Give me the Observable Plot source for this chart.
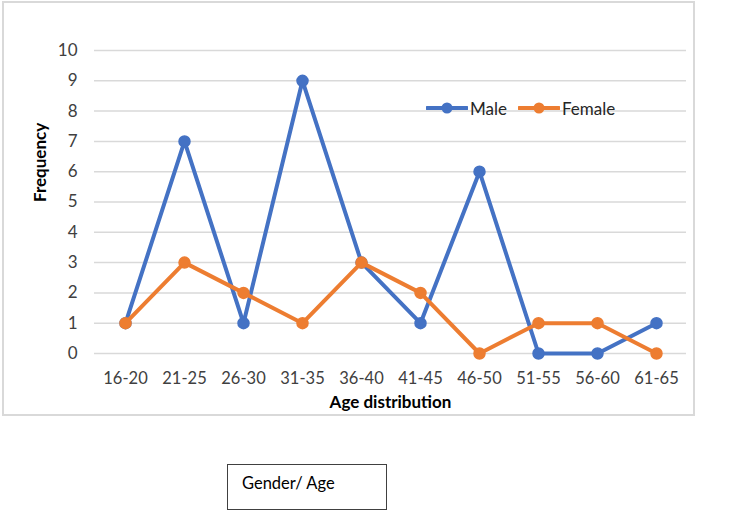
<!DOCTYPE html>
<html>
<head>
<meta charset="utf-8">
<script src="https://cdn.jsdelivr.net/npm/d3@7"></script>
<script src="https://cdn.jsdelivr.net/npm/@observablehq/plot@0.6"></script>
<style>
  html, body { margin: 0; padding: 0; background: #fff; }
  body { width: 735px; height: 528px; position: relative; overflow: hidden; font-family: Lato, "Open Sans", sans-serif; }
  #frame { position: absolute; left: 2px; top: 1px; width: 689px; height: 411px; border: 2px solid #d9d9d9; box-sizing: content-box; pointer-events: none; }
  #chart { position: absolute; left: 0; top: 0; }
  #legend { position: absolute; left: 426px; top: 97px; display: flex; align-items: center; font-size: 17px; color: #262626; }
  #legend .item { display: flex; align-items: center; margin-right: 11px; }
  #legend svg { margin-right: 2px; }
  #box { position: absolute; left: 227px; top: 464px; width: 158px; height: 44px; border: 1.5px solid #404040; font-size: 16.5px; color: #000; }
  #box span { position: absolute; left: 14px; top: 8px; }
</style>
</head>
<body>
<div id="chart"></div>
<div id="frame"></div>
<div id="legend"></div>
<div id="box"><span>Gender/ Age</span></div>
<script>
const ageGroups = ["16-20", "21-25", "26-30", "31-35", "36-40", "41-45", "46-50", "51-55", "56-60", "61-65"];
const male =   [1, 7, 1, 9, 3, 1, 6, 0, 0, 1];
const female = [1, 3, 2, 1, 3, 2, 0, 1, 1, 0];
const yTicks = [0, 1, 2, 3, 4, 5, 6, 7, 8, 9, 10];
const seriesNames = ["Male", "Female"];
const colors = ["#4472C4", "#ED7D31"];

const maleData = ageGroups.map((a, i) => ({age: a, value: male[i]}));
const femaleData = ageGroups.map((a, i) => ({age: a, value: female[i]}));

const plot = Plot.plot({
  width: 735,
  height: 420,
  marginLeft: 94,
  marginRight: 49,
  marginTop: 50,
  marginBottom: 67,
  style: {fontFamily: "Lato, 'Open Sans', sans-serif", fontSize: "16px", color: "#404040", background: "transparent"},
  x: {type: "point", domain: ageGroups, padding: 0.5, label: null},
  y: {domain: [0, 10], label: null},
  marks: [
    Plot.gridY(yTicks, {stroke: "#d9d9d9", strokeOpacity: 1, strokeWidth: 1.5}),
    Plot.axisY(yTicks, {tickSize: 0, tickPadding: 17, fontSize: 17, fill: "#404040", label: null}),
    Plot.axisX({tickSize: 0, tickPadding: 19, fontSize: 16.5, fill: "#404040", label: null}),
    Plot.text(["Age distribution"], {frameAnchor: "bottom", dy: 54, fontWeight: "bold", fontSize: 17, fill: "#000"}),
    Plot.text(["Frequency"], {frameAnchor: "left", dx: -54, rotate: -90, fontWeight: "bold", fontSize: 17, fill: "#000"}),
    Plot.line(maleData, {x: "age", y: "value", stroke: colors[0], strokeWidth: 4, strokeLinejoin: "round", strokeLinecap: "round"}),
    Plot.dot(maleData, {x: "age", y: "value", r: 5.5, fill: colors[0], stroke: colors[0]}),
    Plot.line(femaleData, {x: "age", y: "value", stroke: colors[1], strokeWidth: 4, strokeLinejoin: "round", strokeLinecap: "round"}),
    Plot.dot(femaleData, {x: "age", y: "value", r: 5.5, fill: colors[1], stroke: colors[1]})
  ]
});
document.getElementById("chart").appendChild(plot);

const legend = document.getElementById("legend");
seriesNames.forEach((name, i) => {
  const item = document.createElement("div");
  item.className = "item";
  item.innerHTML = `<svg width="42" height="22"><line x1="1" y1="11" x2="41" y2="11" stroke="${colors[i]}" stroke-width="4" stroke-linecap="round"/><circle cx="21" cy="11" r="5.5" fill="${colors[i]}"/></svg><span>${name}</span>`;
  legend.appendChild(item);
});
</script>
</body>
</html>
